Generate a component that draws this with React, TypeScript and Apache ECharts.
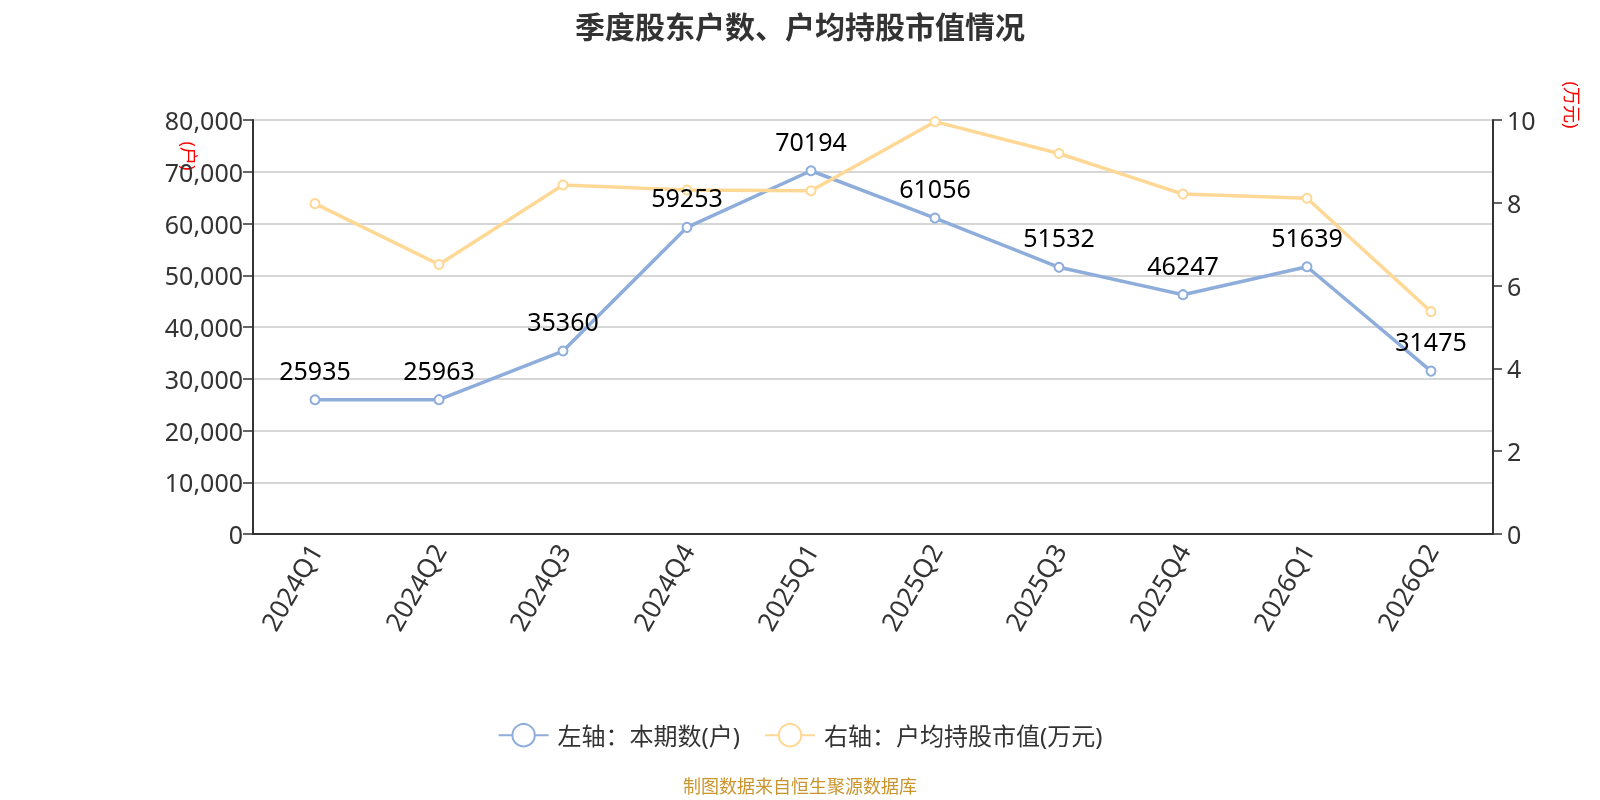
import React, { useEffect, useRef } from "react";
import * as echarts from "echarts";

const categories = ["2024Q1", "2024Q2", "2024Q3", "2024Q4", "2025Q1", "2025Q2", "2025Q3", "2025Q4", "2026Q1", "2026Q2"];
const holders = [25935, 25963, 35360, 59253, 70194, 61056, 51532, 46247, 51639, 31475];
const avgValue = [7.98, 6.51, 8.43, 8.31, 8.29, 9.96, 9.19, 8.21, 8.11, 5.37];
const seriesNames = ["左轴：本期数(户)", "右轴：户均持股市值(万元)"];
const titleText = "季度股东户数、户均持股市值情况";
const sourceText = "制图数据来自恒生聚源数据库";
const leftAxisName = "(户)";
const rightAxisName = "(万元)";

const FONT = '"Noto Sans", "Noto Sans CJK SC", sans-serif';

export default function App() {
  const ref = useRef<HTMLDivElement>(null);
  useEffect(() => {
    if (!ref.current) return;
    const chart = echarts.init(ref.current, undefined, { renderer: "svg" });
    chart.setOption({
      animation: false,
      textStyle: { fontFamily: FONT },
      title: [
        {
          text: titleText,
          left: "center",
          top: 6,
          textStyle: { fontSize: 30, fontWeight: "bold", color: "#333", fontFamily: FONT },
        },
        {
          text: sourceText,
          left: "center",
          top: 772,
          textStyle: { fontSize: 18, fontWeight: "normal", color: "#c9952c", fontFamily: FONT, lineHeight: 18 },
        },
      ],
      legend: {
        data: seriesNames,
        left: "center",
        top: 718,
        itemWidth: 50,
        itemHeight: 28,
        itemGap: 24,
        textStyle: { fontSize: 24, color: "#333", fontFamily: FONT, padding: [0, 0, 0, 4] },
      },
      grid: { left: 253, right: 107, top: 120, bottom: 266 },
      graphic: [
        {
          type: "text",
          x: 189,
          y: 156,
          rotation: -Math.PI / 2,
          style: { text: leftAxisName, fill: "#ff0000", fontSize: 18, align: "center", verticalAlign: "middle", fontFamily: FONT },
        },
        {
          type: "text",
          x: 1572,
          y: 105,
          rotation: -Math.PI / 2,
          style: { text: rightAxisName, fill: "#ff0000", fontSize: 18, align: "center", verticalAlign: "middle", fontFamily: FONT },
        },
      ],
      xAxis: {
        type: "category",
        data: categories,
        axisLine: { lineStyle: { color: "#333", width: 2 } },
        axisTick: { lineStyle: { color: "#333", width: 1.5 }, length: 9 },
        axisLabel: { rotate: 60, interval: 0, fontSize: 26, color: "#333", margin: 12 },
      },
      yAxis: [
        {
          type: "value",
          min: 0,
          max: 80000,
          interval: 10000,
          axisLine: { show: true, lineStyle: { color: "#333", width: 2 } },
          axisTick: { show: true, lineStyle: { color: "#333", width: 1.5 }, length: 10 },
          axisLabel: { fontSize: 25, color: "#333", margin: 10 },
          splitLine: { lineStyle: { color: "#c8c8c8", width: 1.5 } },
        },
        {
          type: "value",
          min: 0,
          max: 10,
          interval: 2,
          axisLine: { show: true, lineStyle: { color: "#333", width: 2 } },
          axisTick: { show: true, lineStyle: { color: "#333", width: 1.5 }, length: 9 },
          axisLabel: { fontSize: 25, color: "#333", margin: 14 },
          splitLine: { show: false },
        },
      ],
      series: [
        {
          name: seriesNames[0],
          type: "line",
          yAxisIndex: 0,
          data: holders,
          symbol: "emptyCircle",
          symbolSize: 9,
          itemStyle: { color: "#8eaddb", borderWidth: 2 },
          lineStyle: { color: "#8eaddb", width: 3.5 },
          label: { show: true, position: "top", fontSize: 25, color: "#000", distance: 12 },
        },
        {
          name: seriesNames[1],
          type: "line",
          yAxisIndex: 1,
          data: avgValue,
          symbol: "emptyCircle",
          symbolSize: 9,
          itemStyle: { color: "#ffd896", borderWidth: 2 },
          lineStyle: { color: "#ffd896", width: 3.5 },
          label: { show: false },
        },
      ],
    });
    return () => chart.dispose();
  }, []);
  return <div ref={ref} style={{ position: "fixed", left: 0, top: 0, width: 1600, height: 800 }} />;
}
